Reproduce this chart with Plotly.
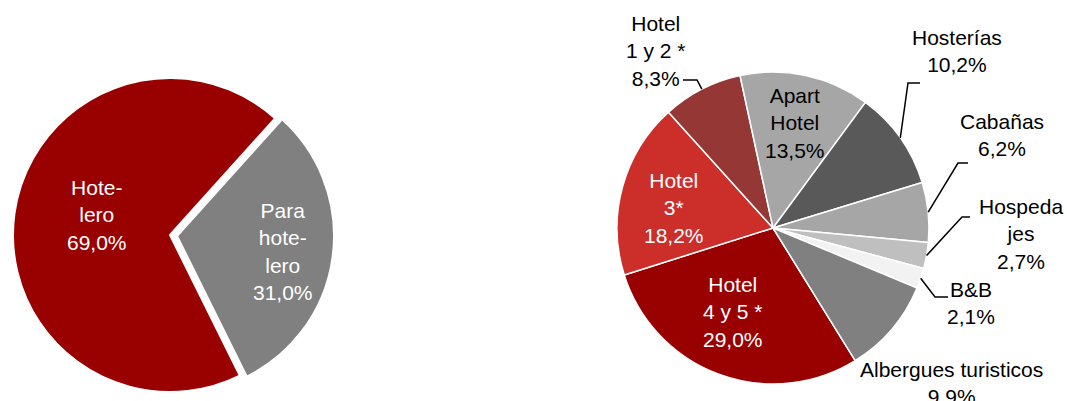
import math
import plotly.graph_objects as go

# ---------------- data ----------------
left_categories = ["Parahotelero", "Hotelero"]
left_values = [31.0, 69.0]
left_text = ["Para<br>hote-<br>lero", "Hote-<br>lero"]

right_categories = ["Hotel 4 y 5 *", "Hotel 3*", "Hotel 1 y 2 *", "Apart Hotel",
                    "Hosterías", "Cabañas", "Hospedajes", "B&B", "Albergues turisticos"]
right_values = [29.0, 18.2, 8.3, 13.5, 10.2, 6.2, 2.7, 2.1, 9.9]
right_text = ["Hotel<br>4 y 5 *", "Hotel<br>3*", "Hotel<br>1 y 2 *", "Apart<br>Hotel",
              "Hosterías", "Cabañas", "Hospeda<br>jes", "B&B", "Albergues turisticos"]

# ---------------- styling / layout ----------------
W, H = 1067, 401
FONT = "Liberation Sans, Arial, sans-serif"
FS = 21

left_colors = ["#808080", "#990000"]
left_textcolor = ["white", "white"]
right_colors = ["#990000", "#CC2E2A", "#953735", "#A6A6A6", "#595959",
                "#A6A6A6", "#BFBFBF", "#F2F2F2", "#808080"]
right_textcolor = ["white", "white", "black", "black", "black",
                   "black", "black", "black", "black"]

# pie geometry (pixels)
L_CX, L_CY, L_R, L_PULL = 170, 235, 157, 0.045
R_CX, R_CY, R_R = 773, 228, 156
L_ROT, R_ROT = 42, 148.2

# label placement (pixels): text centre, optional leader start + elbow
left_label_pos = {
    "Parahotelero": dict(tx=283, ty=251),
    "Hotelero": dict(tx=97, ty=215),
}
right_label_pos = {
    "Hotel 4 y 5 *": dict(tx=733, ty=312, line=None),
    "Hotel 3*": dict(tx=674, ty=208, line=None),
    "Hotel 1 y 2 *": dict(tx=656, ty=51, line=[(683, 80), (697, 80)]),
    "Apart Hotel": dict(tx=795, ty=123, line=None),
    "Hosterías": dict(tx=957, ty=51, line=[(920, 83), (908, 83)]),
    "Cabañas": dict(tx=1002, ty=135, line=[(968, 163), (958, 163)]),
    "Hospedajes": dict(tx=1021, ty=234, line=[(970, 217), (962, 217)]),
    "B&B": dict(tx=971, ty=303, line=[(948, 297), (935, 297)]),
    "Albergues turisticos": dict(tx=951, ty=383, line=None),
}


def px(x):
    return x / W


def py(y):
    return (H - y) / H


def fmt_pct(v):
    return f"{v:.1f}%".replace(".", ",")


fig = go.Figure()

# left pie (domain widened so that plotly's pull scaling gives radius L_R)
half_l = L_R * (1 + L_PULL)
fig.add_trace(go.Pie(
    labels=left_categories, values=left_values,
    sort=False, direction="clockwise", rotation=L_ROT,
    pull=[L_PULL, 0],
    marker=dict(colors=left_colors, line=dict(color="white", width=2)),
    textinfo="none",
    domain=dict(x=[px(L_CX - half_l), px(L_CX + half_l)],
                y=[py(L_CY + half_l), py(L_CY - half_l)]),
    showlegend=False, hoverinfo="label+value",
))

# right pie
fig.add_trace(go.Pie(
    labels=right_categories, values=right_values,
    sort=False, direction="clockwise", rotation=R_ROT,
    marker=dict(colors=right_colors, line=dict(color="white", width=1.5)),
    textinfo="none",
    domain=dict(x=[px(R_CX - R_R), px(R_CX + R_R)],
                y=[py(R_CY + R_R), py(R_CY - R_R)]),
    showlegend=False, hoverinfo="label+value",
))

annotations = []
shapes = []

for cat, val, txt, col in zip(left_categories, left_values, left_text, left_textcolor):
    cfg = left_label_pos[cat]
    annotations.append(dict(
        x=px(cfg["tx"]), y=py(cfg["ty"]), xref="paper", yref="paper",
        text=f"{txt}<br>{fmt_pct(val)}", showarrow=False,
        xanchor="center", yanchor="middle", align="center",
        font=dict(family=FONT, size=FS, color=col),
    ))

# right pie labels; leader lines end on the slice edge at its mid-angle
total = sum(right_values)
angle = R_ROT
for cat, val, txt, col in zip(right_categories, right_values, right_text, right_textcolor):
    span = val / total * 360.0
    mid = math.radians(angle + span / 2)
    angle += span
    cfg = right_label_pos[cat]
    annotations.append(dict(
        x=px(cfg["tx"]), y=py(cfg["ty"]), xref="paper", yref="paper",
        text=f"{txt}<br>{fmt_pct(val)}", showarrow=False,
        xanchor="center", yanchor="middle", align="center",
        font=dict(family=FONT, size=FS, color=col),
    ))
    if cfg["line"]:
        ex = R_CX + R_R * math.sin(mid)
        ey = R_CY - R_R * math.cos(mid)
        (x0, y0), (x1, y1) = cfg["line"]
        path = f"M {px(x0)} {py(y0)} L {px(x1)} {py(y1)} L {px(ex)} {py(ey)}"
        shapes.append(dict(type="path", path=path, xref="paper", yref="paper",
                           line=dict(color="black", width=1.5)))

fig.update_layout(
    width=W, height=H, margin=dict(l=0, r=0, t=0, b=0),
    paper_bgcolor="white", plot_bgcolor="white",
    font=dict(family=FONT, size=FS),
    annotations=annotations, shapes=shapes,
)

fig.write_html(
    "out.html",
    config={"displayModeBar": False},
    post_script="document.body.style.margin='0';document.body.style.overflow='hidden';",
)
